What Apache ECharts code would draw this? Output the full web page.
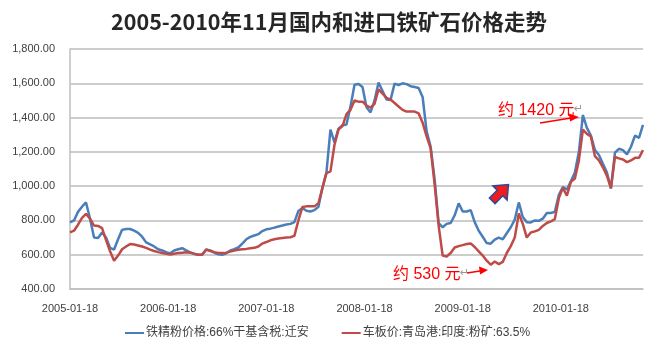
<!DOCTYPE html>
<html>
<head>
<meta charset="utf-8">
<script src="https://cdn.jsdelivr.net/npm/echarts@6/dist/echarts.min.js"></script>
<style>
  html, body { margin: 0; padding: 0; background: #fff; }
  #chart { width: 658px; height: 353px; }
</style>
</head>
<body>
<div id="chart"></div>
<script>
// one tick label per year, the x axis counts half-month steps
const xTickLabels = ['2005-01-18', '2006-01-18', '2007-01-18', '2008-01-18', '2009-01-18', '2010-01-18'];
const yearStep = 24.5;

const seriesNames = ['铁精粉价格:66%干基含税:迁安', '车板价:青岛港:印度:粉矿:63.5%'];

// 铁精粉价格 (blue)
const domesticPrice = [
  788, 800, 850, 880, 905, 810, 700, 697, 730, 700, 640, 630, 690, 745, 750, 750, 740, 728, 705, 672, 660, 648, 632, 625, 615, 608,
  625, 632, 638, 625, 614, 606, 600, 602, 630, 625, 612, 602, 600, 608, 625, 632, 642, 665, 690, 704, 712, 720, 738, 748, 752,
  758, 765, 770, 776, 780, 790, 855, 872, 856, 852, 860, 880, 990, 1080, 1330, 1255, 1335, 1355, 1360, 1464, 1592, 1596, 1578, 1460, 1430,
  1500, 1605, 1555, 1505, 1503, 1598, 1590, 1600, 1595, 1583, 1578, 1572, 1520, 1320, 1231, 1040, 785, 760, 780, 785, 830, 900, 852, 852, 860,
  790, 740, 705, 668, 664, 688, 700, 690, 725, 760, 805, 905, 820, 790, 788, 800, 798, 810, 843, 843, 850, 950, 995, 980, 1028,
  1080, 1200, 1415, 1340, 1295, 1210, 1182, 1130, 1080, 985, 1195, 1218, 1210, 1185, 1230, 1295, 1282, 1357
];

// 车板价 青岛港 印度粉矿 (red)
const importPrice = [
  730, 740, 775, 815, 838, 810, 770, 768, 755, 685, 620, 565, 595, 632, 648, 662, 660, 654, 648, 640, 630, 622, 615, 610, 605, 601,
  606, 610, 612, 614, 612, 605, 600, 600, 630, 622, 615, 610, 610, 612, 618, 624, 629, 632, 634, 638, 640, 648, 665, 674, 684,
  690, 694, 697, 700, 702, 710, 800, 878, 882, 882, 882, 900, 990, 1076, 1086, 1240, 1330, 1350, 1420, 1445, 1500, 1493, 1493, 1470, 1458,
  1480, 1565, 1540, 1515, 1505, 1485, 1465, 1445, 1435, 1435, 1435, 1425, 1370, 1290, 1220, 1010, 770, 595, 590, 610, 642, 650, 656, 662, 666,
  645, 620, 595, 565, 542, 560, 545, 558, 610, 650, 700, 840, 780, 700, 730, 736, 745, 768, 785, 794, 808, 930, 990, 945, 1025,
  1045, 1150, 1330, 1305, 1290, 1175, 1150, 1110, 1060, 990, 1170, 1162, 1155, 1140, 1150, 1165, 1165, 1210
];

const toPairs = (arr) => arr.map((v, i) => [i, v]);

const labelFont = '"Liberation Sans", "Noto Sans CJK SC", sans-serif';
const chart = echarts.init(document.getElementById('chart'), null, { renderer: 'canvas' });

chart.setOption({
  backgroundColor: '#fff',
  animation: false,
  title: {
    text: '2005-2010年11月国内和进口铁矿石价格走势',
    left: 'center',
    top: 6,
    textStyle: { fontSize: 21.5, fontWeight: 'bold', color: '#262626', fontFamily: '"Noto Sans CJK SC", sans-serif' }
  },
  grid: { left: 70, right: 15, top: 49, height: 240 },
  legend: {
    left: 120,
    top: 322,
    itemWidth: 19,
    itemHeight: 2,
    itemGap: 33,
    icon: 'rect',
    textStyle: { fontSize: 12, color: '#404040', fontFamily: labelFont, padding: [0, 0, 0, -3] },
    data: seriesNames
  },
  xAxis: {
    type: 'value',
    min: 0,
    max: domesticPrice.length - 1,
    interval: yearStep,
    axisLine: { show: true, lineStyle: { color: '#bfbfbf', width: 1.5 } },
    axisTick: { show: false },
    splitLine: { show: false },
    axisLabel: {
      margin: 14,
      fontSize: 11,
      color: '#404040',
      fontFamily: labelFont,
      showMaxLabel: false,
      formatter: (v) => xTickLabels[Math.round(v / yearStep)] || ''
    }
  },
  yAxis: {
    type: 'value',
    min: 400,
    max: 1800,
    interval: 200,
    axisLine: { show: true, lineStyle: { color: '#bfbfbf', width: 1.5 } },
    axisTick: { show: false },
    splitLine: { lineStyle: { color: '#bdbdbd', width: 1.6 } },
    axisLabel: {
      margin: 15,
      fontSize: 11,
      color: '#404040',
      fontFamily: labelFont,
      formatter: (v) => v.toFixed(2).replace(/\B(?=(\d{3})+(?!\d))/g, ',')
    }
  },
  series: [
    {
      name: seriesNames[0],
      type: 'line',
      showSymbol: false,
      symbol: 'none',
      color: '#4A7EBB',
      lineStyle: { width: 2.5, color: '#4A7EBB' },
      data: toPairs(domesticPrice)
    },
    {
      name: seriesNames[1],
      type: 'line',
      showSymbol: false,
      symbol: 'none',
      color: '#BE4B48',
      lineStyle: { width: 2.5, color: '#BE4B48' },
      data: toPairs(importPrice)
    }
  ],
  graphic: [
    {
      type: 'text', left: 498, top: 103, z: 100,
      style: { text: '约 1420 元', fill: '#ff0000', font: '16px "Liberation Sans", "Noto Sans CJK SC"' }
    },
    {
      type: 'text', left: 574, top: 104, z: 100,
      style: { text: '↵', fill: '#999', font: '11px "DejaVu Sans"' }
    },
    {
      type: 'line', z: 100,
      shape: { x1: 540, y1: 123, x2: 571, y2: 118 },
      style: { stroke: '#ff0000', lineWidth: 1.5 }
    },
    {
      type: 'polygon', z: 100,
      shape: { points: [[569, 113.5], [579, 117], [570, 121.5]] },
      style: { fill: '#ff0000' }
    },
    {
      type: 'text', left: 393, top: 267, z: 100,
      style: { text: '约 530 元', fill: '#ff0000', font: '16px "Liberation Sans", "Noto Sans CJK SC"' }
    },
    {
      type: 'text', left: 460, top: 268, z: 100,
      style: { text: '↵', fill: '#999', font: '11px "DejaVu Sans"' }
    },
    {
      type: 'line', z: 100,
      shape: { x1: 467, y1: 273, x2: 480, y2: 271 },
      style: { stroke: '#ff0000', lineWidth: 1.5 }
    },
    {
      type: 'polygon', z: 100,
      shape: { points: [[479, 266.5], [488, 270], [480, 274.5]] },
      style: { fill: '#ff0000' }
    },
    {
      type: 'polygon', z: 100,
      x: 500, y: 193, rotation: Math.PI / 4,
      shape: { points: [[-11, -4], [0, -4], [0, -10], [12, 0], [0, 10], [0, 4], [-11, 4]] },
      style: { fill: '#ee1c1c', stroke: '#2b4a9a', lineWidth: 1.5 }
    }
  ]
});
</script>
</body>
</html>
